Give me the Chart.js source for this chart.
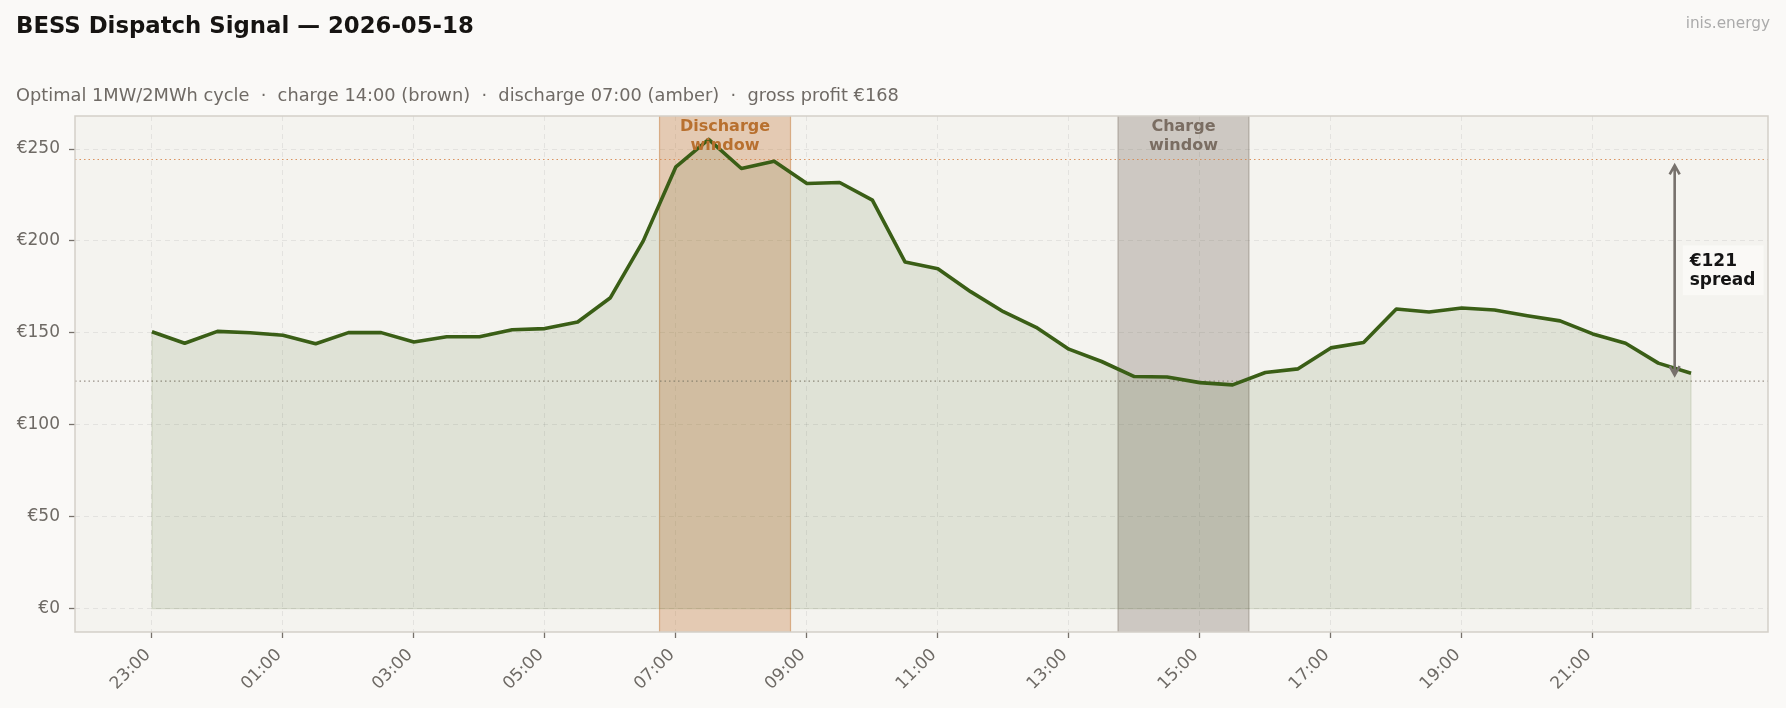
<!DOCTYPE html>
<html>
<head>
<meta charset="utf-8">
<script src="https://cdn.jsdelivr.net/npm/chart.js@4.4.1/dist/chart.umd.min.js"></script>
<style>
  html, body { margin: 0; padding: 0; background: #faf9f7; }
  #wrap { width: 1786px; height: 708px; position: relative; }
</style>
</head>
<body>
<div id="wrap"><canvas id="dispatch" width="1786" height="708"></canvas></div>
<script>
const times = [
  "23:00", "23:30", "00:00", "00:30", "01:00", "01:30", "02:00", "02:30",
  "03:00", "03:30", "04:00", "04:30", "05:00", "05:30", "06:00", "06:30",
  "07:00", "07:30", "08:00", "08:30", "09:00", "09:30", "10:00", "10:30",
  "11:00", "11:30", "12:00", "12:30", "13:00", "13:30", "14:00", "14:30",
  "15:00", "15:30", "16:00", "16:30", "17:00", "17:30", "18:00", "18:30",
  "19:00", "19:30", "20:00", "20:30", "21:00", "21:30", "22:00", "22:30"
];
const prices = [
  150.6, 144.3, 150.8, 150.0, 148.7, 144.1, 150.1, 150.1,
  145.0, 147.9, 147.9, 151.7, 152.3, 155.9, 169.1, 199.9,
  240.3, 255.2, 239.4, 243.4, 231.2, 231.8, 222.2, 188.5,
  184.9, 172.4, 161.5, 153.0, 141.1, 134.4, 126.2, 126.0,
  122.9, 121.7, 128.4, 130.4, 141.8, 144.7, 163.0, 161.3,
  163.5, 162.4, 159.3, 156.5, 149.4, 144.3, 133.5, 128.0
];
const yTicks = [0, 50, 100, 150, 200, 250];
const xTickLabels = ["23:00", "01:00", "03:00", "05:00", "07:00", "09:00", "11:00",
                     "13:00", "15:00", "17:00", "19:00", "21:00"];
const dischargeStart = "07:00";
const chargeStart = "14:00";
const windowSlots = 4;
const dischargeAvg = 244.3;
const chargeAvg = 123.7;
const spreadLines = ["€121", "spread"];
const titleText = "BESS Dispatch Signal — 2026-05-18";
const subtitleText = "Optimal 1MW/2MWh cycle  ·  charge 14:00 (brown)  ·  discharge 07:00 (amber)  ·  gross profit €168";
const brandText = "inis.energy";

const FONT = "'DejaVu Sans', sans-serif";
const lineGreen = "#3a5e16";

// matplotlib style 5% margins
const xPad = 0.05 * (times.length - 1);
const yMaxData = Math.max(...prices);
const yPad = 0.05 * yMaxData;

const dIdx = times.indexOf(dischargeStart);
const cIdx = times.indexOf(chargeStart);

const decor = {
  id: "decor",
  beforeDraw(chart) {
    const { ctx, chartArea: a } = chart;
    ctx.save();
    ctx.fillStyle = "#f4f3ef";
    ctx.fillRect(a.left, a.top, a.right - a.left, a.bottom - a.top);
    ctx.restore();
  },
  beforeDatasetsDraw(chart) {
    const { ctx, chartArea: a, scales: { x, y } } = chart;
    ctx.save();
    const band = (idx, fill, stroke) => {
      const x0 = x.getPixelForValue(idx - 0.5);
      const x1 = x.getPixelForValue(idx + windowSlots - 0.5);
      ctx.fillStyle = fill;
      ctx.fillRect(x0, a.top, x1 - x0, a.bottom - a.top);
      ctx.strokeStyle = stroke;
      ctx.lineWidth = 1.2;
      ctx.beginPath();
      ctx.moveTo(x0, a.top); ctx.lineTo(x0, a.bottom);
      ctx.moveTo(x1, a.top); ctx.lineTo(x1, a.bottom);
      ctx.stroke();
    };
    band(dIdx, "rgba(192,110,40,0.30)", "rgba(192,110,40,0.45)");
    band(cIdx, "rgba(116,102,91,0.30)", "rgba(116,102,91,0.40)");

    const hline = (v, color) => {
      const py = y.getPixelForValue(v);
      ctx.strokeStyle = color;
      ctx.lineWidth = 1.1;
      ctx.setLineDash([1.5, 3]);
      ctx.beginPath();
      ctx.moveTo(a.left, py); ctx.lineTo(a.right, py);
      ctx.stroke();
    };
    hline(dischargeAvg, "rgba(214,130,70,0.85)");
    hline(chargeAvg, "rgba(130,120,110,0.8)");
    ctx.restore();
  },
  afterDatasetsDraw(chart) {
    const { ctx, chartArea: a, scales: { x, y } } = chart;
    ctx.save();
    // edges of the filled area
    const fx0 = x.getPixelForValue(0), fx1 = x.getPixelForValue(times.length - 1);
    const y0 = y.getPixelForValue(0);
    ctx.strokeStyle = "rgba(58,94,22,0.13)";
    ctx.lineWidth = 1.2;
    ctx.beginPath();
    ctx.moveTo(fx0, y.getPixelForValue(prices[0])); ctx.lineTo(fx0, y0);
    ctx.lineTo(fx1, y0); ctx.lineTo(fx1, y.getPixelForValue(prices[prices.length - 1]));
    ctx.stroke();

    // window labels
    ctx.font = "bold 16px " + FONT;
    ctx.textAlign = "center";
    ctx.textBaseline = "alphabetic";
    const label = (idx, color, lines) => {
      const cx = (x.getPixelForValue(idx - 0.5) + x.getPixelForValue(idx + windowSlots - 0.5)) / 2;
      ctx.fillStyle = color;
      ctx.fillText(lines[0], cx, a.top + 15.2);
      ctx.fillText(lines[1], cx, a.top + 34.2);
    };
    label(dIdx, "#b8702f", ["Discharge", "window"]);
    label(cIdx, "#7a6d62", ["Charge", "window"]);

    // spread arrow
    const ax = x.getPixelForValue(times.length - 1.5);
    const ya = y.getPixelForValue(dischargeAvg) + 6;
    const yb = y.getPixelForValue(chargeAvg) - 6;
    ctx.strokeStyle = "#77716c";
    ctx.lineWidth = 2.6;
    ctx.lineCap = "butt";
    ctx.beginPath();
    ctx.moveTo(ax, ya); ctx.lineTo(ax, yb);
    ctx.moveTo(ax - 5, ya + 9); ctx.lineTo(ax, ya); ctx.lineTo(ax + 5, ya + 9);
    ctx.moveTo(ax - 5, yb - 9); ctx.lineTo(ax, yb); ctx.lineTo(ax + 5, yb - 9);
    ctx.stroke();

    const cy = y.getPixelForValue((dischargeAvg + chargeAvg) / 2);
    ctx.fillStyle = "rgba(250,249,247,0.85)";
    ctx.fillRect(ax + 8, cy - 25, 81, 50);
    ctx.fillStyle = "#141414";
    ctx.font = "bold 17px " + FONT;
    ctx.textAlign = "left";
    ctx.fillText(spreadLines[0], ax + 15, cy - 4.5);
    ctx.fillText(spreadLines[1], ax + 15, cy + 14.5);

    // frame
    ctx.strokeStyle = "#d3cfc9";
    ctx.lineWidth = 1.5;
    ctx.strokeRect(a.left, a.top, a.right - a.left, a.bottom - a.top);
    ctx.restore();
  },
  afterDraw(chart) {
    const { ctx } = chart;
    ctx.save();
    ctx.textBaseline = "alphabetic";
    ctx.textAlign = "left";
    ctx.fillStyle = "#161412";
    ctx.font = "bold 22.8px " + FONT;
    ctx.fillText(titleText, 16, 33.3);
    ctx.fillStyle = "#6f6a65";
    ctx.font = "17.8px " + FONT;
    ctx.fillText(subtitleText, 16, 101);
    ctx.fillStyle = "#ababab";
    ctx.font = "15.3px " + FONT;
    ctx.textAlign = "right";
    ctx.fillText(brandText, 1770, 28.3);
    ctx.restore();
  }
};

const tickFont = { family: FONT, size: 17 };
const tickColor = "#6e6a65";

new Chart(document.getElementById("dispatch"), {
  type: "line",
  data: {
    datasets: [{
      data: prices.map((v, i) => ({ x: i, y: v })),
      borderColor: lineGreen,
      borderWidth: 3.6,
      borderJoinStyle: "round",
      backgroundColor: "rgba(58,94,22,0.11)",
      fill: "origin",
      pointRadius: 0,
      tension: 0
    }]
  },
  options: {
    responsive: false,
    animation: false,
    events: [],
    layout: { padding: { top: 116, right: 18, bottom: 0, left: 0 } },
    plugins: { legend: { display: false }, tooltip: { enabled: false } },
    scales: {
      x: {
        type: "linear",
        min: -xPad,
        max: times.length - 1 + xPad,
        afterBuildTicks: s => {
          s.ticks = xTickLabels.map(t => ({ value: times.indexOf(t) }));
        },
        afterFit: s => { s.height = 76; },
        ticks: {
          callback: v => times[v],
          minRotation: 45,
          maxRotation: 45,
          autoSkip: false,
          padding: 7,
          labelOffset: -4,
          color: tickColor,
          font: tickFont
        },
        grid: {
          color: "rgba(0,0,0,0.065)",
          tickColor: "#77716b",
          tickLength: 6,
          tickWidth: 1.3,
          tickBorderDash: []
        },
        border: { display: false, dash: [5, 4] }
      },
      y: {
        min: -yPad,
        max: yMaxData + yPad,
        afterBuildTicks: s => { s.ticks = yTicks.map(v => ({ value: v })); },
        afterFit: s => { s.width = 75; },
        ticks: {
          callback: v => "€" + v,
          padding: 9,
          color: tickColor,
          font: tickFont
        },
        grid: {
          color: "rgba(0,0,0,0.065)",
          tickColor: "#77716b",
          tickLength: 6,
          tickWidth: 1.3,
          tickBorderDash: []
        },
        border: { display: false, dash: [5, 4] }
      }
    }
  },
  plugins: [decor]
});
</script>
</body>
</html>
